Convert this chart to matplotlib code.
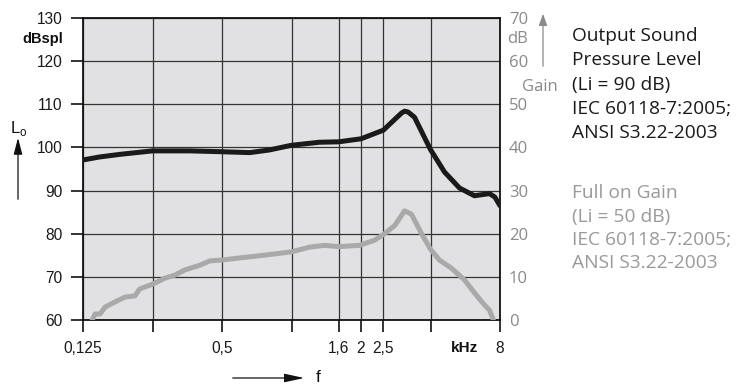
import matplotlib
matplotlib.use("Agg")
import matplotlib.pyplot as plt
from matplotlib.patches import FancyArrowPatch

# Output sound pressure level (dB SPL), Li = 90 dB
spl_freq = [0.125, 0.148, 0.181, 0.25, 0.363, 0.5, 0.66, 0.80, 1.0, 1.32, 1.6, 2.0,
            2.5, 2.8, 3.0, 3.09, 3.2, 3.41, 4.0, 4.6, 5.34, 6.2, 7.2, 7.6, 8.0]
spl_vals = [97.1, 97.8, 98.4, 99.2, 99.2, 99.0, 98.8, 99.4, 100.5, 101.2, 101.3, 102.0,
            104.0, 106.5, 108.0, 108.4, 108.2, 107.0, 99.5, 94.3, 90.6, 88.8, 89.3, 88.5, 86.5]

# Full on gain (dB), Li = 50 dB
gain_freq = [0.137, 0.141, 0.148, 0.156, 0.172, 0.190, 0.210, 0.220, 0.25, 0.283, 0.3125,
             0.345, 0.401, 0.443, 0.5, 0.597, 0.729, 1.0, 1.2, 1.39, 1.6, 1.97, 2.29, 2.53,
             2.8, 3.09, 3.31, 3.66, 4.0, 4.37, 4.93, 5.61, 6.2, 6.85, 7.2, 7.49]
gain_vals = [0.0, 1.4, 1.4, 3.0, 4.2, 5.3, 5.6, 7.2, 8.3, 9.7, 10.4,
             11.6, 12.7, 13.7, 13.9, 14.4, 14.9, 15.8, 16.9, 17.3, 17.0, 17.3, 18.5, 20.0,
             21.9, 25.3, 24.5, 20.0, 16.4, 13.9, 12.0, 9.3, 6.3, 3.5, 2.3, 0.0]

x_ticks = [0.125, 0.25, 0.5, 1, 1.6, 2, 2.5, 4, 8]
x_labels = ['0,125', '', '0,5', '', '1,6', '2', '2,5', '', '8']
spl_ticks = [60, 70, 80, 90, 100, 110, 120, 130]
gain_ticks = [0, 10, 20, 30, 40, 50, 60, 70]

legend1 = ['Output Sound', 'Pressure Level', '(Li = 90 dB)', 'IEC 60118-7:2005;', 'ANSI S3.22-2003']
legend2 = ['Full on Gain', '(Li = 50 dB)', 'IEC 60118-7:2005;', 'ANSI S3.22-2003']

W, H = 745, 385
fig = plt.figure(figsize=(W / 100, H / 100), dpi=100)
ax = fig.add_axes([83 / W, 1 - 320 / H, (500 - 83) / W, (320 - 18) / H])
ax.set_facecolor('#e1e1e3')
ax.set_xscale('log')
ax.set_xlim(0.125, 8)
ax.set_ylim(60, 130)
ax.minorticks_off()
ax.set_xticks(x_ticks)
ax.set_xticklabels(x_labels, family='Liberation Sans', fontsize=11.2, color='#1a1a1a')
ax.set_yticks(spl_ticks)
ax.set_yticklabels([str(t) for t in spl_ticks], family='Liberation Sans', fontsize=11.2,
                   color='#1a1a1a')
ax.tick_params(axis='both', length=8.3, width=1.2, color='#111111')
ax.tick_params(axis='y', pad=6.5)
ax.tick_params(axis='x', pad=6.5)
ax.grid(True, color='#333333', linewidth=0.9)
ax.set_axisbelow(True)
for s in ax.spines.values():
    s.set_color('#111111')
    s.set_linewidth(1.3)

ax.plot(gain_freq, [g + 60 for g in gain_vals], color='#a9a9a9', lw=3.6,
        solid_capstyle='round', solid_joinstyle='round', zorder=3)
ax.plot(spl_freq, spl_vals, color='#1a1a1a', lw=3.6,
        solid_capstyle='round', solid_joinstyle='round', zorder=4)

ax2 = ax.twinx()
ax2.set_ylim(0, 70)
ax2.set_yticks(gain_ticks)
ax2.set_yticklabels([str(t) for t in gain_ticks], family='Open Sans', fontsize=12,
                    color='#8a8a8a')
ax2.tick_params(axis='y', length=0, pad=6.5)
for s in ax2.spines.values():
    s.set_visible(False)

# Left / bottom axis annotations
fig.text(43 / W, 1 - 39 / H, 'dBspl', family='Liberation Sans', fontsize=10.5,
         fontweight='bold', ha='center', va='center', color='#111111')
fig.text(19 / W, 1 - 128 / H, r'L$_\mathregular{o}$', family='Liberation Sans', fontsize=12,
         ha='center', va='center', color='#111111')
fig.add_artist(FancyArrowPatch((18 / W, 1 - 202 / H), (18 / W, 1 - 135 / H),
               transform=fig.transFigure, arrowstyle='-|>,head_length=10,head_width=2.6',
               color='#111111', lw=0.9, mutation_scale=1))
fig.text(465 / W, 1 - 348 / H, 'kHz', family='Liberation Sans', fontsize=11,
         fontweight='bold', ha='center', va='center', color='#111111')
fig.add_artist(FancyArrowPatch((230 / W, 1 - 378 / H), (307 / W, 1 - 378 / H),
               transform=fig.transFigure, arrowstyle='-|>,head_length=12,head_width=2.6',
               color='#111111', lw=0.9, mutation_scale=1))
fig.text(318 / W, 1 - 377 / H, 'f', family='Liberation Sans', fontsize=12.5,
         ha='center', va='center', color='#111111')

# Right axis annotations
fig.text(518 / W, 1 - 39 / H, 'dB', family='Open Sans', fontsize=12, color='#8a8a8a',
         ha='center', va='center')
fig.text(540 / W, 1 - 87 / H, 'Gain', family='Open Sans', fontsize=12, color='#8a8a8a',
         ha='center', va='center')
fig.add_artist(FancyArrowPatch((543 / W, 1 - 69 / H), (543 / W, 1 - 11 / H),
               transform=fig.transFigure, arrowstyle='-|>,head_length=7,head_width=2.5',
               color='#8a8a8a', lw=0.9, mutation_scale=1))

for i, t in enumerate(legend1):
    fig.text(572 / W, 1 - (41 + i * 24.3) / H, t, family='Open Sans', fontsize=13.8,
             color='#1a1a1a', ha='left', va='baseline')
for i, t in enumerate(legend2):
    fig.text(572 / W, 1 - (198.5 + i * 23.3) / H, t, family='Open Sans', fontsize=13.8,
             color='#9a9a9a', ha='left', va='baseline')

fig.savefig('out.png', dpi=100)
